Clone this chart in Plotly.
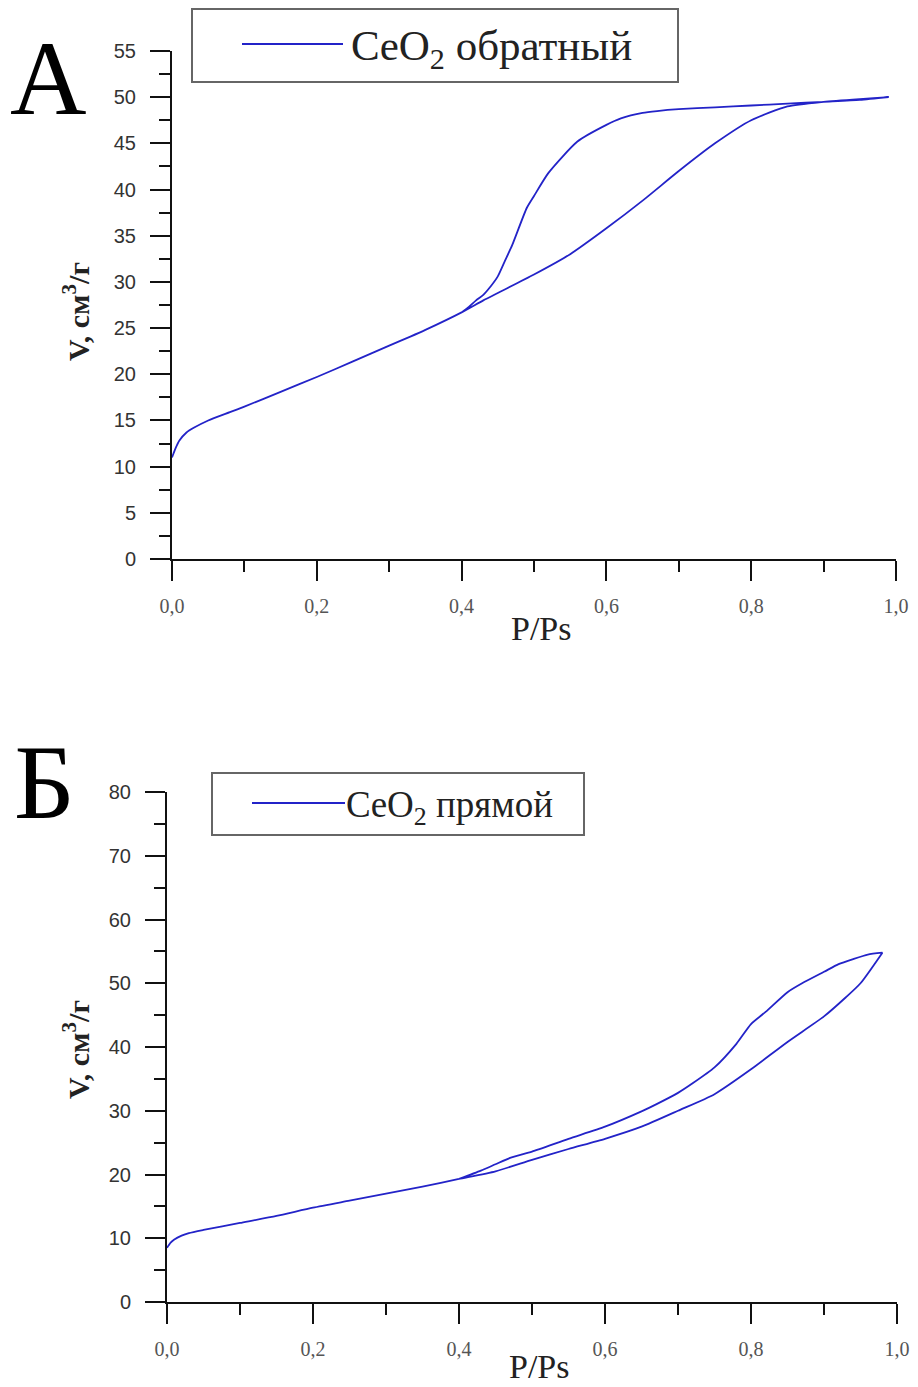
import plotly.graph_objects as go

# ---- Panel A data (CeO2 обратный) ----
a_ads_x = [0, 0.005, 0.01, 0.02, 0.03, 0.05, 0.08, 0.1, 0.15, 0.2, 0.25, 0.3, 0.33, 0.35, 0.4, 0.43,
           0.45, 0.5, 0.55, 0.6, 0.65, 0.7, 0.75, 0.8, 0.85, 0.9, 0.95, 0.99]
a_ads_y = [11.0, 12.0, 12.8, 13.7, 14.2, 15.0, 15.9, 16.5, 18.1, 19.7, 21.4, 23.1, 24.1, 24.8, 26.7, 28.0,
           28.8, 30.8, 33.0, 35.8, 38.8, 42.0, 45.0, 47.5, 49.0, 49.5, 49.8, 50.0]
a_des_x = [0.99, 0.95, 0.9, 0.85, 0.8, 0.75, 0.7, 0.67, 0.65, 0.62, 0.6, 0.56, 0.52, 0.5, 0.49, 0.47,
           0.46, 0.45, 0.44, 0.43, 0.42, 0.41, 0.4]
a_des_y = [50.0, 49.7, 49.5, 49.3, 49.1, 48.9, 48.7, 48.5, 48.3, 47.7, 47.0, 45.2, 41.8, 39.3, 38.0, 34.0,
           32.3, 30.6, 29.5, 28.6, 28.0, 27.3, 26.7]

# ---- Panel B data (CeO2 прямой) ----
b_ads_x = [0, 0.005, 0.01, 0.02, 0.03, 0.05, 0.1, 0.15, 0.2, 0.25, 0.3, 0.35, 0.4, 0.45, 0.5, 0.55,
           0.6, 0.65, 0.7, 0.75, 0.8, 0.85, 0.9, 0.93, 0.95, 0.98]
b_ads_y = [8.5, 9.3, 9.8, 10.4, 10.8, 11.3, 12.4, 13.5, 14.8, 15.9, 17.0, 18.1, 19.3, 20.5, 22.3, 24.0,
           25.6, 27.5, 30.0, 32.6, 36.5, 40.8, 44.8, 47.8, 50.0, 54.8]
b_des_x = [0.98, 0.96, 0.94, 0.92, 0.9, 0.87, 0.85, 0.82, 0.8, 0.78, 0.75, 0.72, 0.7, 0.67, 0.65, 0.6,
           0.55, 0.5, 0.47, 0.45, 0.43, 0.4]
b_des_y = [54.8, 54.5, 53.8, 53.0, 51.8, 50.0, 48.6, 45.5, 43.6, 40.5, 36.8, 34.3, 32.8, 31.0, 29.9, 27.5,
           25.6, 23.6, 22.6, 21.6, 20.6, 19.3]

x_ticks = [0, 0.2, 0.4, 0.6, 0.8, 1.0]
a_y_ticks = [0, 5, 10, 15, 20, 25, 30, 35, 40, 45, 50, 55]
b_y_ticks = [0, 10, 20, 30, 40, 50, 60, 70, 80]

W, H = 918, 1387
LINE = "#2323c8"

def px(x):
    return x / W

def py(y):
    return 1 - y / H

fig = go.Figure()
fig.add_trace(go.Scatter(x=a_ads_x + a_des_x, y=a_ads_y + a_des_y, mode="lines",
                         line=dict(color=LINE, width=1.8, shape="spline", smoothing=0.6),
                         name="CeO2 обратный", xaxis="x", yaxis="y", showlegend=False))
fig.add_trace(go.Scatter(x=b_ads_x + b_des_x, y=b_ads_y + b_des_y, mode="lines",
                         line=dict(color=LINE, width=1.8, shape="spline", smoothing=0.6),
                         name="CeO2 прямой", xaxis="x2", yaxis="y2", showlegend=False))

MINOR = dict(ticks="outside", ticklen=11, tickwidth=2, tickcolor="#111111")
xaxis_common = dict(range=[0, 1.0], tickvals=x_ticks, tickformat=".1f", showline=True, linecolor="#111111",
                    linewidth=2, ticks="outside", ticklen=20, tickwidth=2, tickcolor="#111111",
                    minor=dict(dtick=0.1, **MINOR),
                    showgrid=False, zeroline=False, ticklabelstandoff=8, automargin=False,
                    tickfont=dict(family="Liberation Serif", size=20, color="#555555"))
yaxis_common = dict(showline=True, linecolor="#111111", linewidth=2, ticks="outside", ticklen=20,
                    tickwidth=2, tickcolor="#111111", showgrid=False, zeroline=False, ticklabelstandoff=10,
                    automargin=False,
                    tickfont=dict(family="Liberation Sans", size=20, color="#333333"))

fig.update_layout(
    width=W, height=H, margin=dict(l=0, r=0, t=0, b=0, autoexpand=False),
    paper_bgcolor="white", plot_bgcolor="white", separators=", ",
    xaxis=dict(domain=[px(172), px(896)], anchor="y", **xaxis_common),
    yaxis=dict(domain=[py(559), py(51)], anchor="x", range=[0, 55], tickvals=a_y_ticks,
               minor=dict(dtick=2.5, **MINOR), **yaxis_common),
    xaxis2=dict(domain=[px(167), px(897)], anchor="y2", **xaxis_common),
    yaxis2=dict(domain=[py(1302), py(792)], anchor="x2", range=[0, 80], tickvals=b_y_ticks,
                minor=dict(dtick=5, **MINOR), **yaxis_common),
)

shapes = []
annotations = []

def note(x, y, text, size, xanchor="center", angle=0, color="#222222"):
    annotations.append(dict(x=px(x), y=py(y), xref="paper", yref="paper", text=text,
                            xanchor=xanchor, yanchor="middle", textangle=angle, showarrow=False,
                            font=dict(family="Liberation Serif", size=size, color=color)))

# Panel letters
note(48, 78, "А", 106, color="black")
note(44, 782, "Б", 106, color="black")

# Axis titles
note(76, 312, "<b>V, см<sup>3</sup>/г</b>", 30, angle=-90)
note(76, 1050, "<b>V, см<sup>3</sup>/г</b>", 30, angle=-90)
note(541, 628, "P/Ps", 34)
note(539, 1366, "P/Ps", 34)

# Legend A
shapes.append(dict(type="rect", xref="paper", yref="paper", x0=px(192), x1=px(678), y0=py(82), y1=py(9),
                   line=dict(color="#666666", width=2), fillcolor="white"))
shapes.append(dict(type="line", xref="paper", yref="paper", x0=px(242), x1=px(343), y0=py(44), y1=py(44),
                   line=dict(color=LINE, width=1.8)))
note(349, 49, "CeO<sub>2</sub> обратный", 43, xanchor="left")

# Legend B
shapes.append(dict(type="rect", xref="paper", yref="paper", x0=px(212), x1=px(584), y0=py(835), y1=py(773),
                   line=dict(color="#666666", width=2), fillcolor="white"))
shapes.append(dict(type="line", xref="paper", yref="paper", x0=px(252), x1=px(345), y0=py(803), y1=py(803),
                   line=dict(color=LINE, width=1.8)))
note(344, 807, "CeO<sub>2</sub> прямой", 37, xanchor="left")

fig.update_layout(shapes=shapes, annotations=annotations)
fig.write_html("out.html")
